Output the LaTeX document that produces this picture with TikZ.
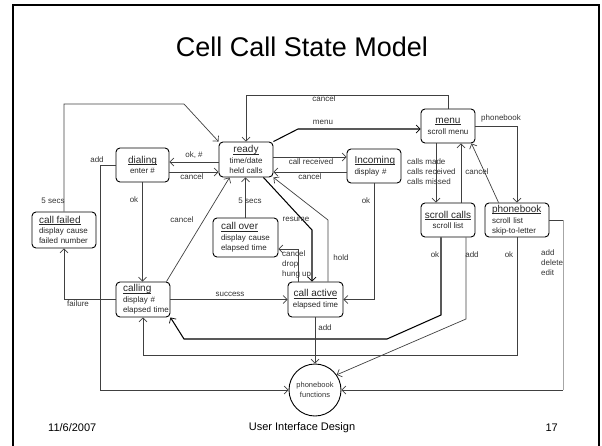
\documentclass[tikz,border=0pt]{standalone}
\usepackage{fontspec}
\setmainfont{Liberation Sans}
\usetikzlibrary{arrows.meta}

% underlined state name, with the rule set just below the baseline
\newcommand\stitle[1]{{\fontsize{10}{10}\selectfont\setbox0\hbox{#1}\rlap{\rule[-1.6pt]{\wd0}{0.6pt}}\box0}}

\begin{document}
\begin{tikzpicture}[x=1pt,y=-1pt,
  state/.style={draw=black, line width=0.9pt, rounded corners=4pt, inner sep=0pt,
    font=\fontsize{8}{10}\selectfont, text=black!85, align=center},
  lstate/.style={state, align=left, text width=#1, inner xsep=7pt},
  func/.style={draw=black, line width=0.9pt, circle, minimum size=52pt, inner sep=0pt,
    font=\fontsize{7.5}{10}\selectfont, text=black!80, align=center},
  plain/.style={draw=black!75, line width=0.7pt},
  conn/.style={plain, -{Straight Barb[length=4pt,width=8pt,line width=0.7pt]}},
  heavy/.style={conn, draw=black, line width=1.05pt},
  lbl/.style={font=\fontsize{8}{10}\selectfont, text=black!80, inner sep=0pt},
  mlbl/.style={lbl, align=left, anchor=west},
  foot/.style={font=\fontsize{11}{13}\selectfont, inner sep=0pt}
]
\useasboundingbox (0,0) rectangle (602,445);

% slide frame
\draw[line width=2.5pt] (13,470) -- (13,5) -- (599,5) -- (599,470);

% title and footer
\node[font=\fontsize{27}{30}\selectfont, inner sep=0pt] (title) at (302,47) {Cell Call State Model};
\node[foot, anchor=west] (date) at (48,428) {11/6/2007};
\node[foot] (course) at (302,428) {User Interface Design};
\node[foot, anchor=east] (page) at (558,428) {17};

% states
\node[state, minimum width=54pt, minimum height=35pt] (ready) at (246,159.5)
  {\stitle{ready}\\[0.8pt]time/date\\held calls};
\node[state, minimum width=53pt, minimum height=34pt] (dialing) at (142.5,165)
  {\stitle{dialing}\\[0.8pt]enter \#};
\node[lstate=39pt, minimum height=34pt, inner xsep=7.5pt] (incoming) at (374,166)
  {\stitle{Incoming}\\[0.8pt]display \#};
\node[state, minimum width=54pt, minimum height=34pt] (menu) at (448,126)
  {\stitle{menu}\\[0.8pt]scroll menu};
\node[state, minimum width=54pt, minimum height=34pt] (scrollcalls) at (448,220)
  {\stitle{scroll calls}\\[0.8pt]scroll list};
\node[lstate=50pt, minimum height=34pt] (phonebook) at (517,220)
  {\stitle{phonebook}\\[0.8pt]scroll list\\skip-to-letter};
\node[lstate=50pt, minimum height=36pt] (callfailed) at (64,230)
  {\stitle{call failed}\\[0.8pt]display cause\\failed number};
\node[lstate=49pt, minimum height=39pt, inner xsep=8pt] (callover) at (245.5,237.5)
  {\stitle{call over}\\[0.8pt]display cause\\elapsed time};
\node[lstate=40pt, minimum height=35pt] (calling) at (143,299.5)
  {\stitle{calling}\\[0.8pt]display \#\\\mbox{elapsed time}};
\node[state, minimum width=55pt, minimum height=35pt] (callactive) at (315.5,299.5)
  {\stitle{call active}\\[0.8pt]elapsed time};
\node[func] (pbfunc) at (315,390) {phonebook\\functions};

% bends of the phonebook edit connector
\coordinate (editbend1) at (563,220);
\coordinate (editbend2) at (563,390);

% transitions
\draw[conn] (ready.west |- 0,162) -- (dialing.east |- 0,162);
\draw[conn] (dialing.east |- 0,172) -- (ready.west |- 0,172);
\draw[conn] (dialing.south) -- (dialing.south |- calling.north);
\draw[conn] (dialing.west) -| (pbfunc.west -| 100,0) -- (pbfunc.west);
\draw[conn] (callfailed.north) |- (184,104) -- (ready.north west);
\draw[conn] (calling.west) -| (callfailed.south);
\draw[conn] ([xshift=-4pt]calling.north east) -- ([xshift=11pt]ready.south west);
\draw[conn] (callover.north) -- (callover.north |- ready.south);
\draw[conn] (calling.east) -- (callactive.west);
\draw[conn] (callactive.north -| 298,0) |- (callover.east |- 0,249);
\draw[heavy] ([xshift=-10pt]ready.south east) -- (312,230) -- (callactive.north -| 312,0);
\draw[conn] (callactive.north -| 328,0) -- (328,220) -- (ready.south east);
\draw[conn] (incoming.south) |- (callactive.east);
\draw[conn] (ready.east |- 0,157) -- (incoming.west |- 0,157);
\draw[conn] (incoming.west |- 0,172) -- (ready.east |- 0,172);
\draw[heavy] (ready.north east) -- (298,129) -- (menu.west |- 0,129);
\draw[conn] (menu.north) |- (ready.north |- 0,95) -- (ready.north);
\draw[conn] (menu.east) -| (phonebook.north);
\draw[conn] (menu.south -| 436,0) -- (scrollcalls.north -| 436,0);
\draw[conn] (scrollcalls.north -| 461,0) -- (menu.south -| 461,0);
\draw[conn] ([xshift=14pt]phonebook.north west) -- ([xshift=-4pt]menu.south east);
\draw[heavy] (scrollcalls.south -| 441,0) -- (441,315) -- (387,339) -- (184,339) -- (calling.south east);
\draw[conn] (scrollcalls.south -| 466,0) -- (466,319) -- (pbfunc.35);
\draw[conn] (phonebook.south) |- (calling.south |- 0,355) -- (calling.south);
\draw[plain] (phonebook.east) -- (editbend1);
\draw[plain, draw=black!35] (editbend1) -- (editbend2);
\draw[conn] (editbend2) -- (pbfunc.east);
\draw[conn] (callactive.south -| pbfunc.north) -- (pbfunc.north);

% transition labels
\node[lbl] (l-cancel-top) at (324,99) {cancel};
\node[lbl] (l-menu) at (323,122) {menu};
\node[lbl] (l-phonebook) at (501,118) {phonebook};
\node[lbl] (l-okhash) at (194,155) {ok, \#};
\node[lbl] (l-cancel-dial) at (192,177) {cancel};
\node[lbl] (l-add-dial) at (97,160) {add};
\node[lbl] (l-received) at (311,162) {call received};
\node[lbl] (l-cancel-inc) at (310,177) {cancel};
\node[mlbl] (l-calls) at (407,172) {calls made\\calls received\\calls missed};
\node[lbl] (l-cancel-pb) at (477,172) {cancel};
\node[lbl] (l-5secs-fail) at (53,201) {5 secs};
\node[lbl] (l-ok-dial) at (134,200) {ok};
\node[lbl] (l-5secs-over) at (250,201) {5 secs};
\node[lbl] (l-ok-inc) at (366,201) {ok};
\node[lbl] (l-cancel-call) at (182,220) {cancel};
\node[lbl] (l-resume) at (296,219) {resume};
\node[mlbl] (l-hangup) at (282,264) {cancel\\drop\\hung up};
\node[lbl] (l-hold) at (341,258) {hold};
\node[lbl] (l-ok-scroll) at (435,255) {ok};
\node[lbl] (l-add-scroll) at (472,255) {add};
\node[lbl] (l-ok-pb) at (509,255) {ok};
\node[mlbl] (l-edit) at (541,263) {add\\delete\\edit};
\node[lbl] (l-success) at (230,294) {success};
\node[lbl] (l-failure) at (78,304) {failure};
\node[lbl] (l-add-active) at (325,328) {add};
\end{tikzpicture}
\end{document}
